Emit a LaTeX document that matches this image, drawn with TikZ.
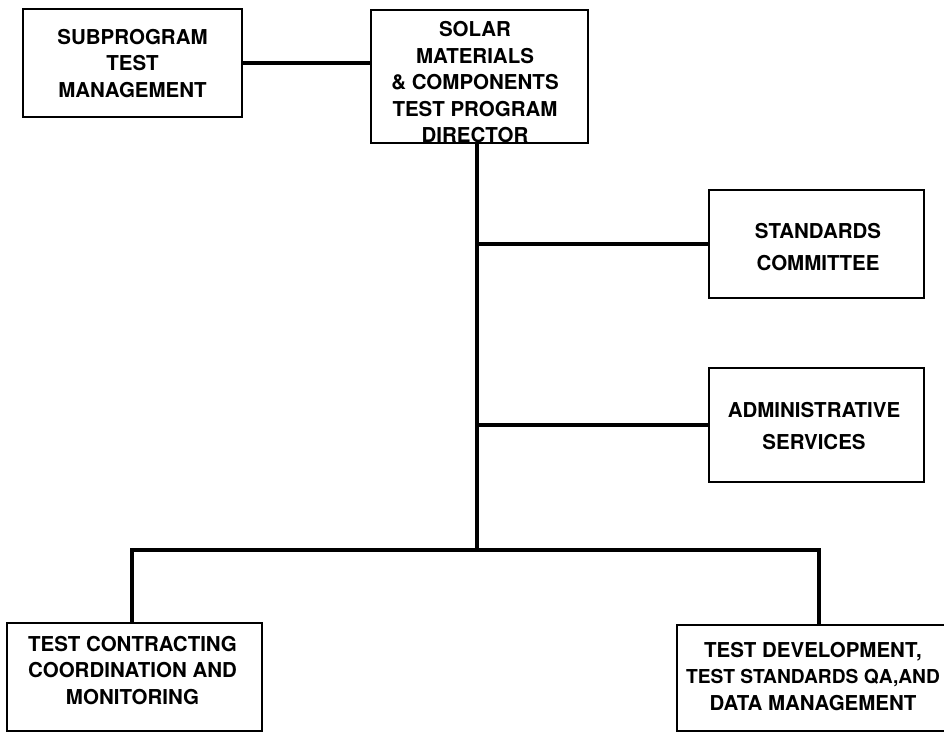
\documentclass[tikz,border=0pt]{standalone}
\usepackage{fontspec}
\setmainfont{TeX Gyre Heros}
\begin{document}
\begin{tikzpicture}[x=1pt,y=-1pt,
  box/.style={draw=black, line width=2.4pt, rectangle, inner sep=0pt},
  txt/.style={align=center, inner sep=0pt, font=\bfseries\fontsize{20.5}{26.5}\selectfont},
  wtxt/.style={align=center, inner sep=0pt, font=\bfseries\fontsize{20.5}{32}\selectfont},
  conn/.style={draw=black, line width=4pt}]
\useasboundingbox (0,0) rectangle (944,732);
\clip (0,0) rectangle (944,732);
% boxes
\node[box, minimum width=219pt, minimum height=108pt] (sub) at (132.5,63) {};
\node[box, minimum width=217pt, minimum height=133pt] (dir) at (479.5,76.5) {};
\node[box, minimum width=215pt, minimum height=108pt] (std) at (816.5,244) {};
\node[box, minimum width=215pt, minimum height=114pt] (adm) at (816.5,425) {};
\node[box, minimum width=255pt, minimum height=108pt] (tc) at (134.5,677) {};
\node[box, minimum width=280pt, minimum height=106pt] (td) at (817,678) {};
% texts
\node[txt] (subt) at (132.5,63.5) {SUBPROGRAM\\TEST\\MANAGEMENT};
\node[txt] (dirt) at (475,82.5) {SOLAR\\MATERIALS\\\& COMPONENTS\\TEST PROGRAM\\DIRECTOR};
\node[wtxt] (stdt) at (818,247.5) {STANDARDS\\COMMITTEE};
\node[wtxt] (admt) at (814,426.5) {ADMINISTRATIVE\\SERVICES};
\node[txt] (tct) at (132.5,670.5) {TEST CONTRACTING\\COORDINATION AND\\MONITORING};
\node[txt] (tdt) at (813,676.5) {TEST DEVELOPMENT,\\{\fontsize{19.2}{26.5}\selectfont TEST STANDARDS QA,AND}\\DATA MANAGEMENT};
% junction coordinates
\coordinate (jb) at (477,550);
\coordinate (bl) at (132,550);
\coordinate (br) at (819,550);
% connectors
\draw[conn] (sub.east) -- (sub.east -| dir.west);
\draw[conn] (dir.south -| jb) -- (jb);
\draw[conn] (std.west -| jb) -- (std.west);
\draw[conn] (adm.west -| jb) -- (adm.west);
\draw[conn] (tc.north -| bl) -- (bl) -- (br) -- (br |- td.north);
\end{tikzpicture}
\end{document}
